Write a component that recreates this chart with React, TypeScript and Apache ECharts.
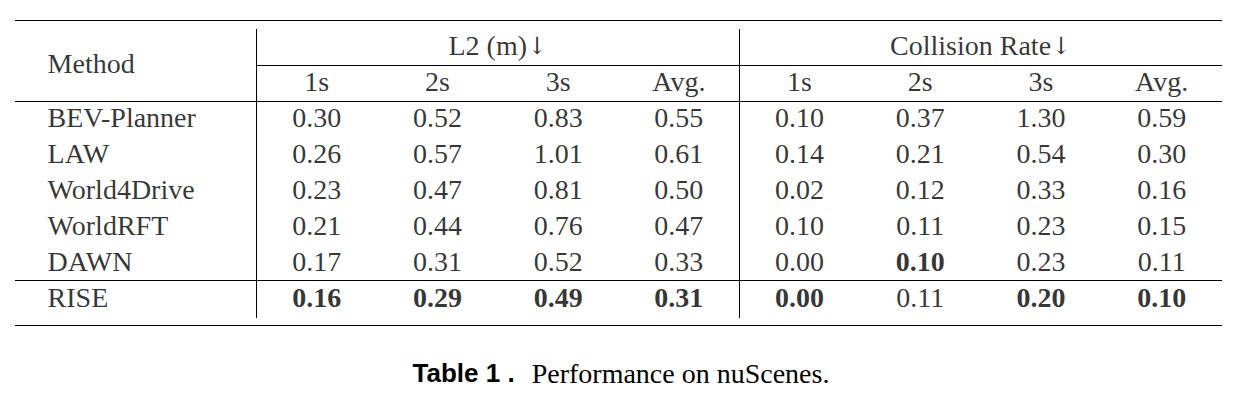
import { useEffect, useRef } from 'react';
import * as echarts from 'echarts';

const methods = ['BEV-Planner', 'LAW', 'World4Drive', 'WorldRFT', 'DAWN', 'RISE'];
const groups = ['L2 (m)', 'Collision Rate'];
const horizons = ['1s', '2s', '3s', 'Avg.'];

const l2At1s = [0.3, 0.26, 0.23, 0.21, 0.17, 0.16];
const l2At2s = [0.52, 0.57, 0.47, 0.44, 0.31, 0.29];
const l2At3s = [0.83, 1.01, 0.81, 0.76, 0.52, 0.49];
const l2Avg = [0.55, 0.61, 0.5, 0.47, 0.33, 0.31];
const collisionAt1s = [0.1, 0.14, 0.02, 0.1, 0.0, 0.0];
const collisionAt2s = [0.37, 0.21, 0.12, 0.11, 0.1, 0.11];
const collisionAt3s = [1.3, 0.54, 0.33, 0.23, 0.23, 0.2];
const collisionAvg = [0.59, 0.3, 0.16, 0.15, 0.11, 0.1];

// row index of the bold (best) entry in each value column
const boldRows = [5, 5, 5, 5, 5, 4, 5, 5];

const columns = [l2At1s, l2At2s, l2At3s, l2Avg, collisionAt1s, collisionAt2s, collisionAt3s, collisionAvg];

const SERIF = 'Liberation Serif';
const FONT_SIZE = 28;

// table layout in axis units: x -> method column is 2 wide, each value column 1 wide
// y -> one unit per body row, header rows above 0
const METHOD_WIDTH = 2;
const HEAD_GROUP_Y = -2;
const HEAD_SUB_Y = -1;

function cell(x: number, y: number, text: string, bold = false, align = 'center') {
  return {
    value: [x, y],
    label: { formatter: text, fontWeight: bold ? 'bold' : 'normal', align },
  };
}

function buildCells() {
  const cells: any[] = [];
  cells.push(cell(0.27, (HEAD_GROUP_Y + HEAD_SUB_Y) / 2, 'Method', false, 'left'));
  groups.forEach((g, gi) => {
    // arrow in its own rich run so it is drawn by DejaVu, not an emoji font
    cells.push(cell(METHOD_WIDTH + gi * horizons.length + horizons.length / 2, HEAD_GROUP_Y, `${g}{arrow|↓}`));
    horizons.forEach((h, hi) => {
      cells.push(cell(METHOD_WIDTH + gi * horizons.length + hi + 0.5, HEAD_SUB_Y, h));
    });
  });
  methods.forEach((m, r) => {
    cells.push(cell(0.27, r, m, false, 'left'));
    columns.forEach((col, c) => {
      cells.push(cell(METHOD_WIDTH + c + 0.5, r, col[r].toFixed(2), boldRows[c] === r));
    });
  });
  return cells;
}

function buildRules() {
  const right = METHOD_WIDTH + columns.length;
  const last = methods.length - 1;
  const rule = (x1: number, y1: number, x2: number, y2: number, width: number) => ({
    coords: [[x1, y1], [x2, y2]],
    lineStyle: { width },
  });
  return [
    rule(0, HEAD_GROUP_Y - 0.72, right, HEAD_GROUP_Y - 0.72, 2),
    rule(METHOD_WIDTH, HEAD_SUB_Y - 0.47, right, HEAD_SUB_Y - 0.47, 1),
    rule(0, -0.47, right, -0.47, 1),
    rule(0, last - 0.5, right, last - 0.5, 1),
    rule(0, last + 0.78, right, last + 0.78, 2),
    rule(METHOD_WIDTH, HEAD_GROUP_Y - 0.47, METHOD_WIDTH, last + 0.56, 1),
    rule(METHOD_WIDTH + horizons.length, HEAD_GROUP_Y - 0.47, METHOD_WIDTH + horizons.length, last + 0.56, 1),
  ];
}

export default function App() {
  const chartRef = useRef<HTMLDivElement>(null);

  useEffect(() => {
    if (!chartRef.current) return;
    const chart = echarts.init(chartRef.current, null, { renderer: 'svg' });

    chart.setOption({
      animation: false,
      backgroundColor: '#fff',
      title: {
        left: 'center',
        top: 354,
        text: '{b|Table 1 .}{r|Performance on nuScenes.}',
        textStyle: {
          fontFamily: SERIF,
          fontWeight: 'normal',
          fontSize: 28,
          color: '#000',
          rich: {
            b: { fontFamily: 'Liberation Sans', fontWeight: 'bold', fontSize: 26, color: '#000', padding: [0, 17, 0, 0] },
            r: { fontFamily: SERIF, fontWeight: 'normal', fontSize: 28, color: '#000' },
          },
        },
      },
      grid: { left: 15, top: 20, width: 1207, height: 306 },
      xAxis: { type: 'value', min: 0, max: METHOD_WIDTH + columns.length, show: false },
      yAxis: { type: 'value', min: HEAD_GROUP_Y - 0.72, max: methods.length - 1 + 0.78, inverse: true, show: false },
      series: [
        {
          type: 'lines',
          coordinateSystem: 'cartesian2d',
          silent: true,
          lineStyle: { color: '#000', opacity: 1, curveness: 0 },
          data: buildRules(),
        },
        {
          type: 'scatter',
          symbolSize: 0,
          silent: true,
          label: {
            show: true,
            position: 'inside',
            color: '#000',
            fontFamily: SERIF,
            fontSize: FONT_SIZE,
            rich: {
              arrow: { fontFamily: 'DejaVu Serif', fontSize: 24, color: '#000' },
            },
          },
          data: buildCells(),
        },
      ],
    });

    return () => chart.dispose();
  }, []);

  return (
    <div
      ref={chartRef}
      style={{ position: 'absolute', left: 0, top: 0, width: 1242, height: 401, background: '#fff' }}
    />
  );
}
